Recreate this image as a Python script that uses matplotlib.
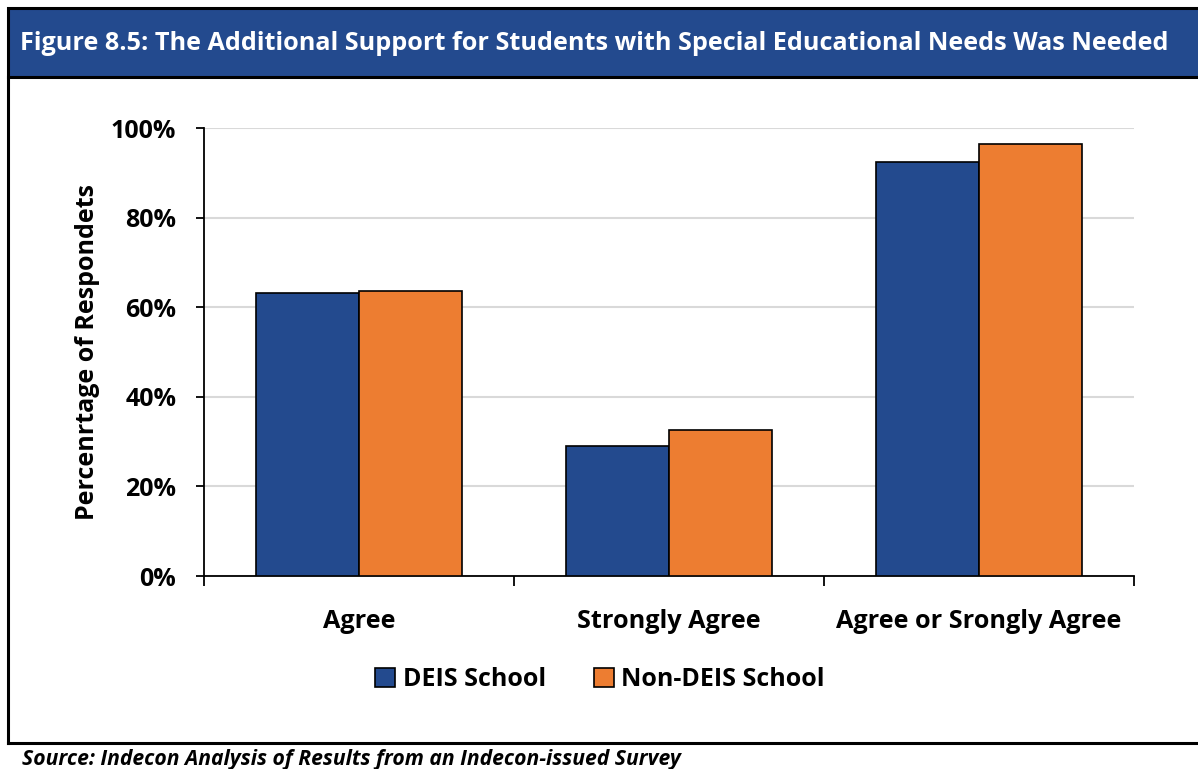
import numpy as np
import matplotlib.pyplot as plt
from matplotlib.patches import Rectangle
from matplotlib.lines import Line2D
from matplotlib.ticker import PercentFormatter

plt.rcParams['font.family'] = ['Open Sans', 'DejaVu Sans']

# data
categories = ["Agree", "Strongly Agree", "Agree or Srongly Agree"]
deis = [63.2, 29.0, 92.3]
non_deis = [63.7, 32.6, 96.4]
series_names = ["DEIS School", "Non-DEIS School"]

blue = "#234A8E"
orange = "#ED7D31"

W, H = 1198, 769
fig = plt.figure(figsize=(W / 100, H / 100), dpi=100)

# outer frame and title bar
fig.add_artist(Rectangle((8 / W, 1 - 77 / H), 1.0, 69 / H, transform=fig.transFigure,
                         facecolor=blue, edgecolor="black", linewidth=2.2))
fig.add_artist(Line2D([8 / W, 8 / W], [1 - 77 / H, 1 - 743 / H], transform=fig.transFigure,
                      color="black", linewidth=2.2))
fig.add_artist(Line2D([8 / W, 1.0], [1 - 743 / H, 1 - 743 / H], transform=fig.transFigure,
                      color="black", linewidth=2.2))
fig.text(594 / W, 1 - 43 / H,
         "Figure 8.5: The Additional Support for Students with Special Educational Needs Was Needed",
         color="white", fontsize=18.2, fontweight="bold", ha="center", va="center")
fig.text(22 / W, 1 - 759 / H, "Source: Indecon Analysis of Results from an Indecon-issued Survey",
         fontsize=15.2, fontweight="bold", fontstyle="italic", ha="left", va="center")

ax = fig.add_axes([204 / W, 1 - 576 / H, 930 / W, 448 / H])
x = np.arange(len(categories))
bw = 0.332
ax.bar(x - bw / 2, deis, bw, color=blue, edgecolor="black", linewidth=1.2,
       label=series_names[0], zorder=3)
ax.bar(x + bw / 2, non_deis, bw, color=orange, edgecolor="black", linewidth=1.2,
       label=series_names[1], zorder=3)

ax.set_xlim(-0.5, len(categories) - 0.5)
ax.set_ylim(0, 100)
ax.set_yticks(np.arange(0, 101, 20))
ax.yaxis.set_major_formatter(PercentFormatter(decimals=0))
ax.grid(axis="y", color="#d9d9d9", linewidth=1.5, zorder=0)

ax.set_xticks(x)
ax.set_xticklabels(categories, fontsize=18.2, fontweight="bold")
ax.set_xticks(np.arange(-0.5, len(categories), 1), minor=True)
ax.tick_params(axis="x", which="major", length=0, pad=24)
ax.tick_params(axis="x", which="minor", length=7, width=1.3, direction="out")
ax.tick_params(axis="y", length=6, width=1.3, pad=14)
for lab in ax.get_yticklabels():
    lab.set_fontsize(18)
    lab.set_fontweight("bold")

for s in ["top", "right"]:
    ax.spines[s].set_visible(False)
for s in ["left", "bottom"]:
    ax.spines[s].set_linewidth(1.3)

ax.set_ylabel("Percenrtage of Respondets", fontsize=18, fontweight="bold", labelpad=8)

ax.legend(loc="center", bbox_to_anchor=(600 / W, 1 - 680 / H), bbox_transform=fig.transFigure,
          ncol=2, frameon=False, prop={"size": 18, "weight": "bold"},
          handlelength=0.8, handleheight=0.8, handletextpad=0.3, columnspacing=1.9)

fig.savefig("out.png", dpi=100)
